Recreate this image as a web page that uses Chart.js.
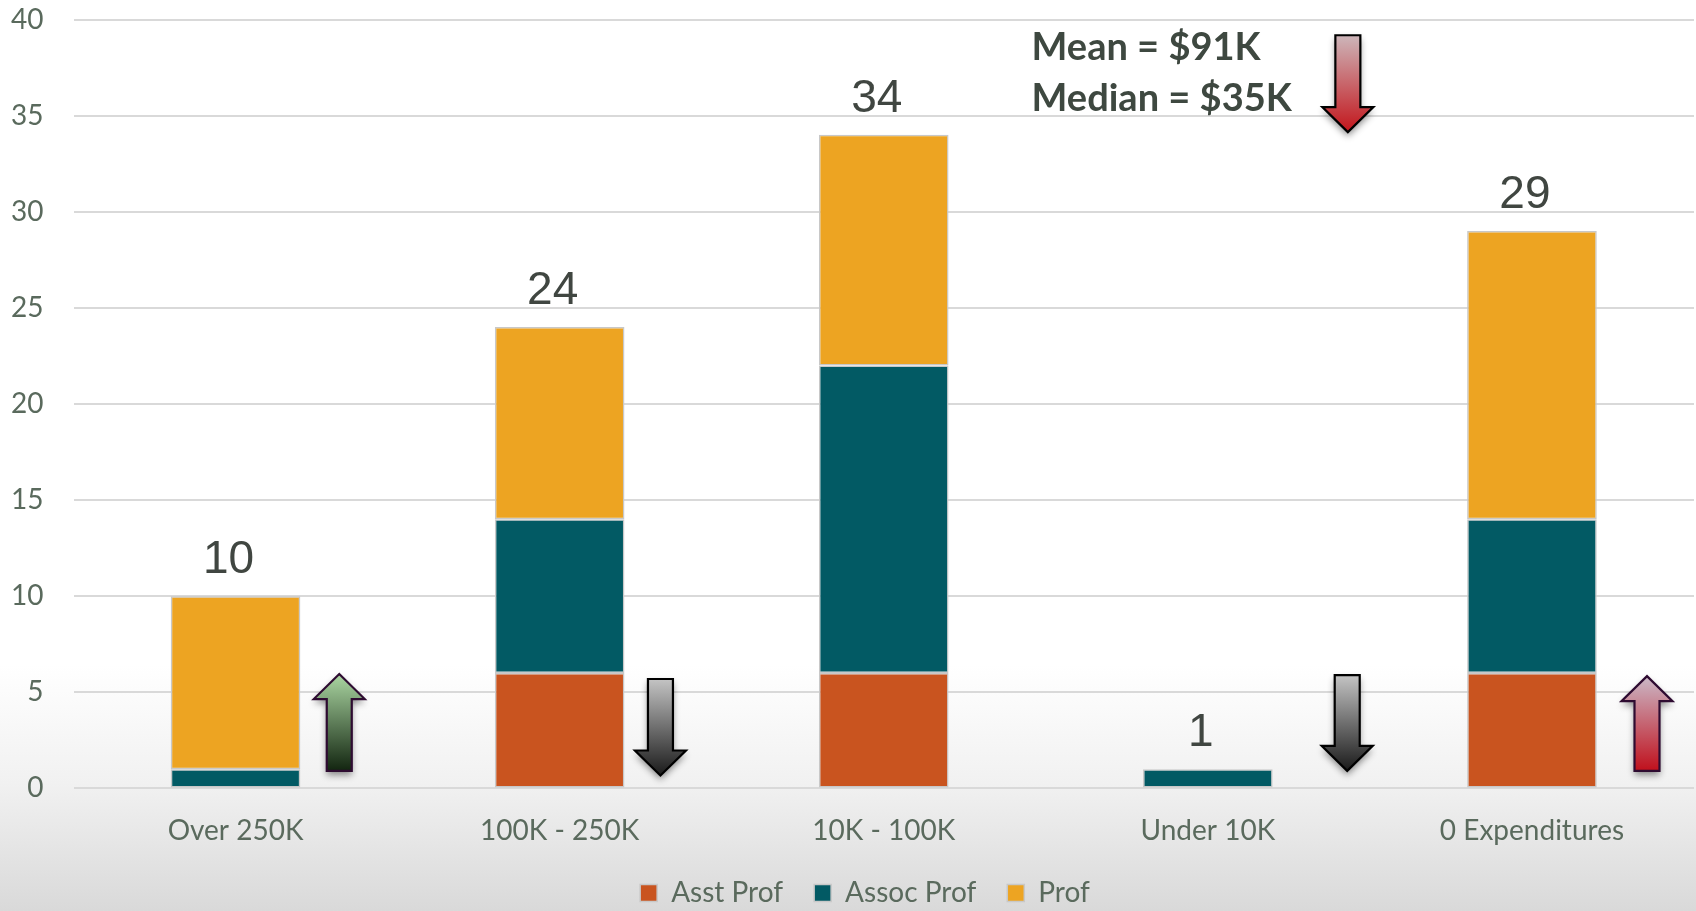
<!DOCTYPE html>
<html><head><meta charset="utf-8">
<style>
html,body{margin:0;padding:0;}
body{width:1696px;height:911px;overflow:hidden;background:linear-gradient(to bottom,#ffffff 0%,#ffffff 73%,#f1f1f1 86%,#d9d9d9 100%);}
#wrap{position:relative;width:1696px;height:911px}
canvas{display:block}
</style>
<script src="https://cdn.jsdelivr.net/npm/chart.js@4.4.1/dist/chart.umd.min.js"></script>
</head><body><div id="wrap"><canvas id="c" width="1696" height="911"></canvas></div>
<script>
// ---- data ----
const categories = ['Over 250K', '100K - 250K', '10K - 100K', 'Under 10K', '0 Expenditures'];
const asstProf  = [0, 6, 6, 0, 6];
const assocProf = [1, 8, 16, 1, 8];
const prof      = [9, 10, 12, 0, 15];
const totals    = [10, 24, 34, 1, 29];
const yTicks    = [0, 5, 10, 15, 20, 25, 30, 35, 40];
const summaryLines = ['Mean = $91K', 'Median = $35K'];

// ---- annotation arrows (category position, tail value, tip value) ----
const arrowMarks = [
  {at: 0.32,  tail: 0.91, tip: 5.95, light: '#abd6a2', dark: '#122510', stroke: '#2e0b31'},
  {at: 1.311, tail: 5.69, tip: 0.67, light: '#c4c4c4', dark: '#1a1a1a', stroke: '#000000'},
  {at: 3.43,  tail: 5.89, tip: 0.91, light: '#c4c4c4', dark: '#1a1a1a', stroke: '#000000'},
  {at: 4.355, tail: 0.91, tip: 5.84, light: '#cbb9c8', dark: '#c0101c', stroke: '#2e0b31'},
  {at: 3.432, tail: 39.18, tip: 34.14, light: '#cdb6ba', dark: '#c3151b', stroke: '#000000'}
];

const textColor = '#5a6a5d';
const FONT = 'Lato';

const overlayPlugin = {
  id: 'overlay',
  afterLayout(chart) {
    // nudge the legend slightly right, as in the reference
    if (chart.legend) { chart.legend.left += 18; chart.legend.right += 18; }
  },
  afterDatasetsDraw(chart) {
    const ctx = chart.ctx;
    const xs = chart.scales.x, ys = chart.scales.y;
    // totals
    ctx.save();
    ctx.font = '46px "Liberation Sans", Arial, sans-serif';
    ctx.fillStyle = '#404641';
    ctx.textAlign = 'center';
    ctx.textBaseline = 'alphabetic';
    totals.forEach((t, i) => {
      ctx.fillText(String(t), xs.getPixelForValue(i) - 7, ys.getPixelForValue(t) - 23);
    });
    ctx.restore();
    // arrows
    arrowMarks.forEach(a => {
      const x = xs.getPixelForValue(a.at);
      const yTail = ys.getPixelForValue(a.tail);
      const yTip = ys.getPixelForValue(a.tip);
      const dir = yTip < yTail ? -1 : 1;
      const hl = 25 * dir, hw = 25.5, sw = 12.5;
      const hb = yTip - hl;
      ctx.save();
      ctx.beginPath();
      ctx.moveTo(x - sw, yTail);
      ctx.lineTo(x - sw, hb);
      ctx.lineTo(x - hw, hb);
      ctx.lineTo(x, yTip);
      ctx.lineTo(x + hw, hb);
      ctx.lineTo(x + sw, hb);
      ctx.lineTo(x + sw, yTail);
      ctx.closePath();
      const top = Math.min(yTail, yTip), bot = Math.max(yTail, yTip);
      const g = ctx.createLinearGradient(0, top, 0, bot);
      g.addColorStop(0, a.light);
      g.addColorStop(1, a.dark);
      ctx.shadowColor = 'rgba(0,0,0,0.45)';
      ctx.shadowBlur = 7;
      ctx.shadowOffsetY = 4;
      ctx.fillStyle = g;
      ctx.fill();
      ctx.shadowColor = 'transparent';
      ctx.lineWidth = 2.2;
      ctx.lineJoin = 'miter';
      ctx.strokeStyle = a.stroke;
      ctx.stroke();
      ctx.restore();
    });
    // summary text
    ctx.save();
    ctx.font = 'bold 38px ' + FONT;
    ctx.fillStyle = '#3e4840';
    ctx.textAlign = 'left';
    ctx.textBaseline = 'alphabetic';
    const sx = xs.getPixelForValue(2.456);
    ctx.fillText(summaryLines[0], sx, ys.getPixelForValue(37.88));
    ctx.fillText(summaryLines[1], sx, ys.getPixelForValue(35.23));
    ctx.restore();
  }
};

const common = {borderColor: '#c8c8c8', borderWidth: 1.5, borderSkipped: false};

new Chart(document.getElementById('c'), {
  type: 'bar',
  data: {
    labels: categories,
    datasets: [
      Object.assign({label: 'Asst Prof', data: asstProf, backgroundColor: '#C9541F'}, common),
      Object.assign({label: 'Assoc Prof', data: assocProf, backgroundColor: '#025A64'}, common),
      Object.assign({label: 'Prof', data: prof, backgroundColor: '#EDA422'}, common)
    ]
  },
  options: {
    responsive: false,
    animation: false,
    devicePixelRatio: 1,
    layout: {padding: {top: 19.5, left: 0, right: 2, bottom: 0}},
    datasets: {bar: {categoryPercentage: 1, barPercentage: 0.4}},
    plugins: {
      tooltip: {enabled: false},
      legend: {
        position: 'bottom',
        maxHeight: 63,
        labels: {font: {family: FONT, size: 28}, color: textColor, boxWidth: 17, boxHeight: 17, padding: 31}
      }
    },
    scales: {
      x: {
        stacked: true,
        grid: {display: false, drawTicks: true, tickLength: 26, tickColor: 'transparent'},
        border: {display: false},
        ticks: {font: {family: FONT, size: 28}, color: textColor, padding: 0}
      },
      y: {
        stacked: true,
        min: 0, max: 40,
        afterBuildTicks(s) { s.ticks = yTicks.map(v => ({value: v})); },
        afterFit(s) { s.width = 73.5; },
        grid: {color: '#d9d9d9', lineWidth: 2, drawTicks: true, tickLength: 30, tickColor: 'transparent'},
        border: {display: false},
        ticks: {font: {family: FONT, size: 28}, color: textColor, padding: 0}
      }
    }
  },
  plugins: [overlayPlugin]
});
</script>
</body></html>
